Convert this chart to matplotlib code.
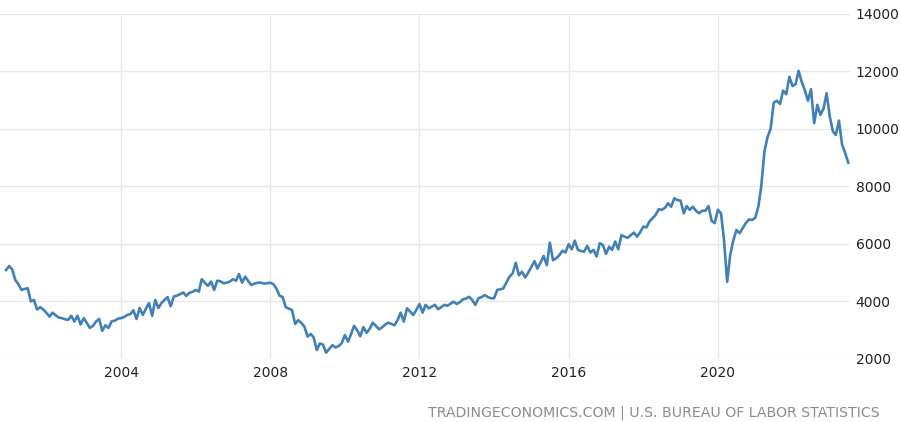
import matplotlib
matplotlib.use("Agg")
import matplotlib.pyplot as plt
import pandas as pd

# monthly job openings (thousands), Dec 2000 .. Jul 2023
start_month = "2000-12-01"
openings = [
    5090,
    # 2001
    5230, 5100, 4750, 4600, 4400, 4430, 4460, 4000, 4050, 3720, 3800, 3720,
    # 2002
    3600, 3470, 3610, 3520, 3440, 3420, 3380, 3360, 3500, 3300, 3500, 3200,
    # 2003
    3420, 3250, 3080, 3150, 3300, 3390, 2980, 3170, 3080, 3310, 3330, 3400,
    # 2004
    3420, 3460, 3530, 3560, 3690, 3390, 3770, 3530, 3750, 3940, 3500, 4050,
    # 2005
    3770, 3950, 4050, 4150, 3830, 4170, 4200, 4250, 4310, 4190, 4300, 4330,
    # 2006
    4400, 4340, 4770, 4650, 4540, 4690, 4400, 4720, 4700, 4630, 4650, 4690,
    # 2007
    4770, 4720, 4950, 4650, 4860, 4700, 4570, 4620, 4650, 4650, 4620, 4630,
    # 2008
    4650, 4600, 4450, 4200, 4150, 3800, 3750, 3700, 3220, 3350, 3250, 3120,
    # 2009
    2780, 2870, 2750, 2310, 2540, 2500, 2220, 2350, 2480, 2400, 2450, 2550,
    # 2010
    2830, 2600, 2850, 3150, 3000, 2790, 3110, 2910, 3050, 3260, 3150, 3030,
    # 2011
    3100, 3200, 3260, 3220, 3170, 3350, 3610, 3300, 3760, 3650, 3530, 3700,
    # 2012
    3910, 3610, 3880, 3760, 3820, 3880, 3730, 3800, 3880, 3850, 3920, 3990,
    # 2013
    3910, 3980, 4070, 4100, 4160, 4050, 3880, 4110, 4150, 4220, 4150, 4110,
    # 2014
    4110, 4400, 4420, 4450, 4650, 4860, 4970, 5340, 4910, 5030, 4830, 5000,
    # 2015
    5200, 5400, 5140, 5350, 5580, 5260, 6040, 5430, 5500, 5600, 5760, 5700,
    # 2016
    5990, 5810, 6110, 5790, 5750, 5730, 5930, 5700, 5790, 5560, 6020, 5960,
    # 2017
    5650, 5900, 5790, 6080, 5810, 6300, 6250, 6210, 6300, 6390, 6250, 6400,
    # 2018
    6600, 6570, 6770, 6890, 7000, 7200, 7180, 7250, 7410, 7290, 7580, 7520,
    # 2019
    7500, 7060, 7310, 7180, 7290, 7150, 7060, 7150, 7150, 7310, 6800, 6720,
    # 2020
    7180, 7060, 6150, 4680, 5610, 6130, 6480, 6370, 6550, 6720, 6850, 6830,
    # 2021
    6900, 7300, 8000, 9200, 9700, 10000, 10900, 10970, 10860, 11320, 11200, 11800,
    # 2022
    11480, 11550, 12010, 11630, 11340, 10970, 11370, 10190, 10830, 10480, 10700, 11230,
    # 2023
    10420, 9900, 9780, 10280, 9450, 9150, 8820,
]
dates = pd.date_range(start_month, periods=len(openings), freq="MS")

year_ticks = [2004, 2008, 2012, 2016, 2020]
value_ticks = [2000, 4000, 6000, 8000, 10000, 12000, 14000]
source = "TRADINGECONOMICS.COM | U.S. BUREAU OF LABOR STATISTICS"

fig = plt.figure(figsize=(9, 4.22), dpi=100)
ax = fig.add_axes([0, 1 - 359 / 422, 850 / 900, (359 - 13.5) / 422])

ax.plot(dates, openings, color="#4380b3", linewidth=1.9, solid_joinstyle="round")

ax.set_xlim(pd.Timestamp("2000-10-03"), pd.Timestamp("2023-07-18"))
ax.set_ylim(2000, 14000)
ax.set_xticks([pd.Timestamp(f"{y}-01-01") for y in year_ticks])
ax.set_xticklabels([str(y) for y in year_ticks])
ax.set_yticks(value_ticks)
ax.set_yticklabels([str(v) for v in value_ticks])

ax.yaxis.tick_right()
ax.tick_params(length=0, labelsize=10, colors="#222222")
ax.tick_params(axis="x", pad=5)
ax.tick_params(axis="y", pad=4)
ax.grid(True, color="#e8e8e8", linewidth=1)
ax.set_axisbelow(True)
for s in ax.spines.values():
    s.set_visible(False)

fig.text(880 / 900, 1 - 412.5 / 422, source, ha="right", va="center",
         fontsize=10.2, color="#8c8c8c")

fig.savefig("out.png", dpi=100)
